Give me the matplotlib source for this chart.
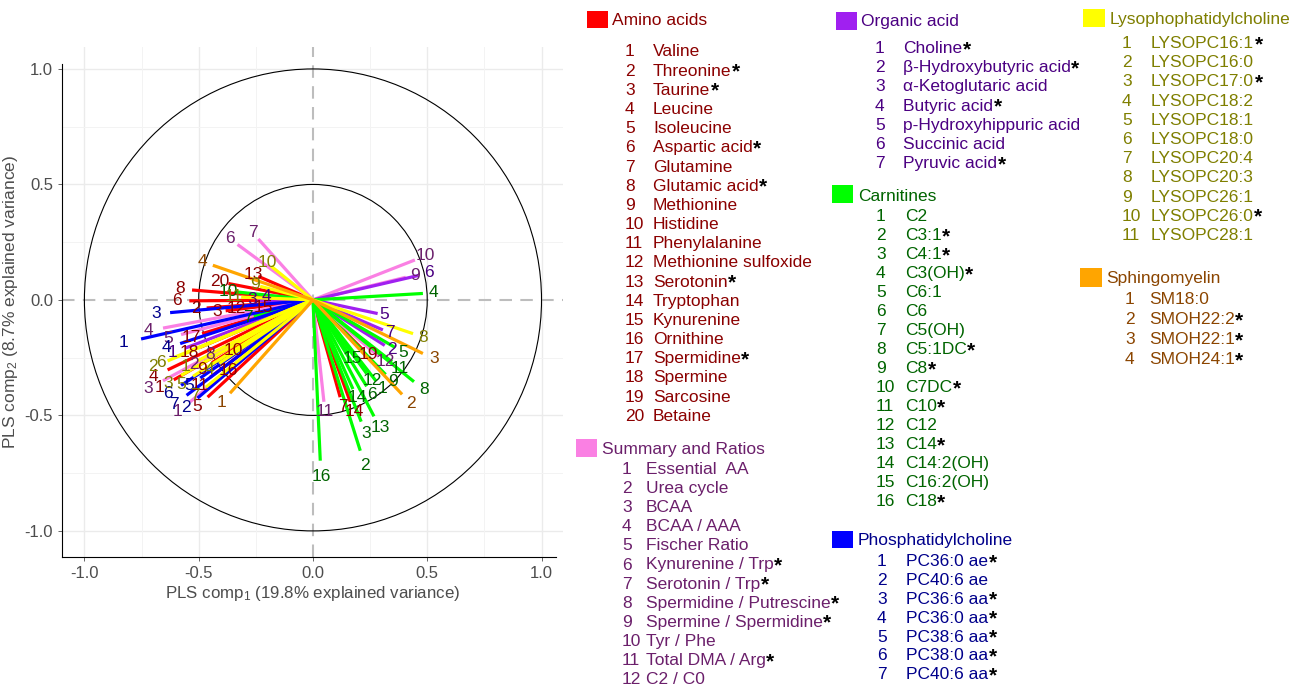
import numpy as np
import matplotlib
matplotlib.use("Agg")
import matplotlib.pyplot as plt
from matplotlib.patches import Circle, Rectangle

plt.rcParams['font.family'] = ['Liberation Sans', 'DejaVu Sans']
plt.rcParams['mathtext.fontset'] = 'custom'
plt.rcParams['mathtext.rm'] = 'Liberation Sans'
plt.rcParams['mathtext.it'] = 'Liberation Sans:italic'
plt.rcParams['axes.unicode_minus'] = False

# ---- variable loadings on PLS comp 1 / comp 2 (arrow tips) ----
amino_names = ['Valine', 'Threonine*', 'Taurine*', 'Leucine', 'Isoleucine', 'Aspartic acid*',
               'Glutamine', 'Glutamic acid*', 'Methionine', 'Histidine', 'Phenylalanine',
               'Methionine sulfoxide', 'Serotonin*', 'Tryptophan', 'Kynurenine', 'Ornithine',
               'Spermidine*', 'Spermine', 'Sarcosine', 'Betaine']
amino_x = [-0.609, -0.465, -0.382, -0.636, -0.461, -0.541, 0.119, -0.529, -0.442, -0.318,
           -0.450, -0.306, -0.239, 0.163, -0.199, -0.338, -0.485, -0.493, 0.219, -0.370]
amino_y = [-0.346, -0.035, -0.047, -0.303, -0.421, -0.004, -0.421, 0.043, -0.272, -0.201,
           -0.335, -0.035, 0.102, -0.441, -0.028, -0.279, -0.146, -0.205, -0.216, 0.071]

ratio_names = ['Essential  AA', 'Urea cycle', 'BCAA', 'BCAA / AAA', 'Fischer Ratio',
               'Kynurenine / Trp*', 'Serotonin / Trp*', 'Spermidine / Putrescine*',
               'Spermine / Spermidine*', 'Tyr / Phe', 'Total DMA / Arg*', 'C2 / C0']
ratio_x = [-0.537, -0.473, -0.656, -0.656, -0.577, -0.330, -0.239, -0.410, 0.406, 0.446, 0.048, 0.286]
ratio_y = [-0.441, -0.256, -0.350, -0.122, -0.150, 0.240, 0.264, -0.216, 0.098, 0.173, -0.441, -0.244]

organic_names = ['Choline*', 'β-Hydroxybutyric acid*', 'α-Ketoglutaric acid', 'Butyric acid*',
                 'p-Hydroxyhippuric acid', 'Succinic acid', 'Pyruvic acid*']
organic_x = [-0.557, 0.314, -0.243, -0.187, 0.283, 0.462, 0.306]
organic_y = [-0.208, -0.197, 0.000, 0.012, -0.059, 0.106, -0.130]

carn_names = ['C2', 'C3:1*', 'C4:1*', 'C3(OH)*', 'C6:1', 'C6', 'C5(OH)', 'C5:1DC*', 'C8*',
              'C7DC*', 'C10*', 'C12', 'C14*', 'C14:2(OH)', 'C16:2(OH)', 'C18*']
carn_x = [0.275, 0.207, 0.211, 0.481, 0.358, 0.235, -0.259, 0.442, 0.318, -0.338,
          0.346, 0.235, 0.267, 0.175, 0.155, 0.032]
carn_y = [-0.350, -0.653, -0.527, 0.028, -0.205, -0.374, -0.071, -0.354, -0.323, 0.035,
          -0.268, -0.319, -0.504, -0.386, -0.232, -0.696]

pc_names = ['PC36:0 ae*', 'PC40:6 ae', 'PC36:6 aa*', 'PC36:0 aa*', 'PC38:6 aa*',
            'PC38:0 aa*', 'PC40:6 aa*']
pc_x = [-0.752, -0.505, -0.625, -0.581, -0.493, -0.577, -0.553]
pc_y = [-0.169, -0.425, -0.055, -0.189, -0.338, -0.370, -0.413]

lyso_names = ['LYSOPC16:1*', 'LYSOPC16:0', 'LYSOPC17:0*', 'LYSOPC18:2', 'LYSOPC18:1',
              'LYSOPC18:0', 'LYSOPC20:4', 'LYSOPC20:3', 'LYSOPC26:1', 'LYSOPC26:0*', 'LYSOPC28:1']
lyso_x = [-0.505, -0.636, -0.577, -0.410, -0.525, -0.605, -0.469, 0.438, -0.231, -0.183, -0.314]
lyso_y = [-0.264, -0.264, -0.327, -0.275, -0.331, -0.248, -0.378, -0.146, 0.059, 0.146, 0.012]

sm_names = ['SM18:0', 'SMOH22:2*', 'SMOH22:1*', 'SMOH24:1*']
sm_x = [-0.363, 0.390, 0.481, -0.438]
sm_y = [-0.404, -0.409, -0.232, 0.150]

# title, names, x, y, line colour, text colour, legend layout (pixels)
groups = [
    ('Amino acids', amino_names, amino_x, amino_y, '#FF0000', '#8B0000',
     dict(sq=(587, 11, 21, 17), title=(612, 19), num=625, name=653, y0=50.5, dy=19.17)),
    ('Summary and Ratios', ratio_names, ratio_x, ratio_y, '#FA80E3', '#6B1F6B',
     dict(sq=(576, 439, 21, 18), title=(602, 448), num=622, name=646, y0=468, dy=19.1)),
    ('Organic acid', organic_names, organic_x, organic_y, '#A020F0', '#4B0082',
     dict(sq=(836, 12, 21, 18), title=(861, 20), num=875, name=903, y0=47, dy=19.2)),
    ('Carnitines', carn_names, carn_x, carn_y, '#00FF00', '#006400',
     dict(sq=(832, 185, 21, 18), title=(858, 195), num=876, name=905, y0=215, dy=19.0)),
    ('Phosphatidylcholine', pc_names, pc_x, pc_y, '#0000FF', '#00008B',
     dict(sq=(832, 531, 21, 17), title=(858, 539), num=877, name=906, y0=560, dy=18.9)),
    ('Lysophophatidylcholine', lyso_names, lyso_x, lyso_y, '#FFFF00', '#7F7F00',
     dict(sq=(1083, 9, 22, 18), title=(1110, 18), num=1122, name=1151, y0=42, dy=19.2)),
    ('Sphingomyelin', sm_names, sm_x, sm_y, '#FFA500', '#8B4500',
     dict(sq=(1080, 268, 22, 19), title=(1106, 277), num=1125, name=1149, y0=298, dy=20.0)),
]

W, H = 1301, 688
fig = plt.figure(figsize=(W / 100, H / 100), dpi=100)
ax = fig.add_axes([62 / W, 1 - 557 / H, (563 - 62) / W, (557 - 47) / H])

# grid
for v in [-1, -0.5, 0.5, 1]:
    ax.axvline(v, color='#EBEBEB', lw=1.0, zorder=0)
    ax.axhline(v, color='#EBEBEB', lw=1.0, zorder=0)
for v in [-0.75, -0.25, 0.25, 0.75]:
    ax.axvline(v, color='#F3F3F3', lw=0.7, zorder=0)
    ax.axhline(v, color='#F3F3F3', lw=0.7, zorder=0)
ax.axvline(0, color='#BDBDBD', lw=1.5, ls=(0, (6, 4)), zorder=1)
ax.axhline(0, color='#BDBDBD', lw=1.5, ls=(0, (6, 4)), zorder=1)

ax.add_patch(Circle((0, 0), 1.0, fill=False, color='black', lw=0.8, zorder=2))
ax.add_patch(Circle((0, 0), 0.5, fill=False, color='black', lw=0.8, zorder=2))

for title, names, xs, ys, lc, tc, lay in groups:
    for x, y in zip(xs, ys):
        ax.plot([0, x], [0, y], color=lc, lw=2.3, solid_capstyle='butt', zorder=3)
for title, names, xs, ys, lc, tc, lay in groups:
    for i, (x, y) in enumerate(zip(xs, ys)):
        ax.text(1.1 * x, 1.1 * y, str(i + 1), color=tc, fontsize=12.5,
                ha='center', va='center', zorder=4)

ax.set_xlim(-1.098, 1.094)
ax.set_ylim(-1.113, 1.095)
ticks = [-1.0, -0.5, 0.0, 0.5, 1.0]
ax.set_xticks(ticks)
ax.set_yticks(ticks)
ax.set_xticklabels(['%.1f' % t for t in ticks])
ax.set_yticklabels(['%.1f' % t for t in ticks])
ax.tick_params(colors='#4D4D4D', labelsize=12, length=3, width=0.6)
for s in ['top', 'right']:
    ax.spines[s].set_visible(False)
ax.spines['left'].set_bounds(-1.113, 1.02)
ax.spines['bottom'].set_bounds(-1.098, 1.064)
ax.set_xlabel('PLS comp$_1$ (19.8% explained variance)', fontsize=12.2, color='#4D4D4D', labelpad=2)
ax.set_ylabel('PLS comp$_2$ (8.7% explained variance)', fontsize=12.5, color='#4D4D4D', labelpad=3)


def fx(px):
    return px / W


def fy(py):
    return 1 - py / H


# legend blocks
stars = []
for title, names, xs, ys, lc, tc, lay in groups:
    sx, sy, sw, sh = lay['sq']
    fig.patches.append(Rectangle((fx(sx), fy(sy + sh)), sw / W, sh / H, facecolor=lc,
                                 edgecolor='none', transform=fig.transFigure, figure=fig))
    tx, ty = lay['title']
    fig.text(fx(tx), fy(ty + 6), title, color=tc, fontsize=12.5, va='baseline')
    for i, nm in enumerate(names):
        yb = lay['y0'] + i * lay['dy'] + 6
        fig.text(fx(lay['num']), fy(yb), str(i + 1), color=tc, fontsize=12.5, va='baseline')
        star = nm.endswith('*')
        t = fig.text(fx(lay['name']), fy(yb), nm.rstrip('*'), color=tc, fontsize=12.5,
                     va='baseline')
        if star:
            stars.append((t, yb))

fig.canvas.draw()
r = fig.canvas.get_renderer()
for t, yb in stars:
    bb = t.get_window_extent(r)
    fig.text(bb.x1 / W + 0.5 / W, fy(yb + 2), '*', color='black', fontsize=15,
             fontweight='bold', va='baseline')

fig.savefig('out.png', dpi=100)
